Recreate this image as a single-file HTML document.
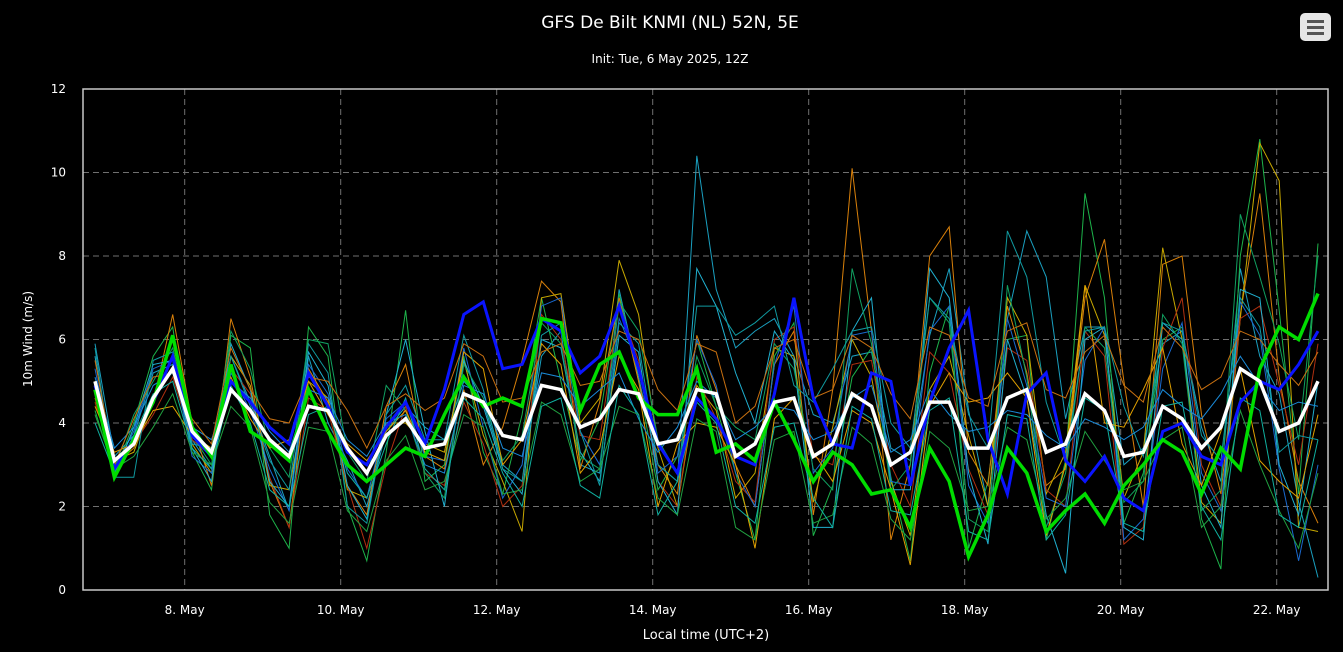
<!DOCTYPE html>
<html><head><meta charset="utf-8">
<style>
html,body{margin:0;padding:0;background:#000;}
svg{display:block;font-family:"DejaVu Sans","Liberation Sans",sans-serif;}
</style></head>
<body>
<svg id="chart" width="1343" height="652" viewBox="0 0 1343 652" xmlns="http://www.w3.org/2000/svg">
<rect x="0" y="0" width="1343" height="652" fill="#000"/>
<text x="670" y="28" fill="#fff" font-size="17" text-anchor="middle">GFS De Bilt KNMI (NL) 52N, 5E</text>
<text x="670" y="63" fill="#fff" font-size="12" text-anchor="middle">Init: Tue, 6 May 2025, 12Z</text>
<g>
<rect x="1300" y="13" width="31" height="28" rx="5" fill="#e6e6e6"/>
<rect x="1307" y="20" width="17" height="3" fill="#555"/>
<rect x="1307" y="26" width="17" height="3" fill="#555"/>
<rect x="1307" y="32" width="17" height="3" fill="#555"/>
</g>
<g id="grid"></g>
<g id="members"></g>
<g id="mains"></g>
<rect x="83" y="89" width="1245" height="501" fill="none" stroke="#c8c8c8" stroke-width="1.5"/>
<g id="axes"></g>
<text transform="translate(32,339) rotate(-90)" fill="#fff" font-size="12" text-anchor="middle">10m Wind (m/s)</text>
<text x="706" y="639" fill="#fff" font-size="13" text-anchor="middle">Local time (UTC+2)</text>
</svg>
<script>
const yTicks=[0,2,4,6,8,10,12];
const xTickLabels=["8. May","10. May","12. May","14. May","16. May","18. May","20. May","22. May"];
const xTickDays=[1.15,3.15,5.15,7.15,9.15,11.15,13.15,15.15];
const meanValues=[5.0,3.1,3.5,4.6,5.3,3.8,3.3,4.8,4.3,3.6,3.2,4.4,4.3,3.4,2.8,3.7,4.1,3.4,3.5,4.7,4.5,3.7,3.6,4.9,4.8,3.9,4.1,4.8,4.7,3.5,3.6,4.8,4.7,3.2,3.5,4.5,4.6,3.2,3.5,4.7,4.4,3.0,3.3,4.5,4.5,3.4,3.4,4.6,4.8,3.3,3.5,4.7,4.3,3.2,3.3,4.4,4.1,3.4,3.9,5.3,5.0,3.8,4.0,5.0];
const controlValues=[4.8,2.7,3.6,4.5,6.1,3.9,3.2,5.4,3.8,3.5,3.1,4.8,3.8,3.0,2.6,3.0,3.4,3.2,4.2,5.1,4.4,4.6,4.4,6.5,6.4,4.3,5.4,5.7,4.6,4.2,4.2,5.3,3.3,3.5,3.1,4.5,3.6,2.6,3.3,3.0,2.3,2.4,1.5,3.4,2.6,0.8,1.8,3.4,2.8,1.4,1.9,2.3,1.6,2.5,3.0,3.6,3.3,2.3,3.4,2.9,5.3,6.3,6.0,7.1];
const operValues=[4.9,2.9,3.6,4.5,5.6,3.7,3.2,5.0,4.5,3.9,3.5,5.2,4.4,3.3,3.0,3.9,4.5,3.5,4.8,6.6,6.9,5.3,5.4,6.5,6.2,5.2,5.6,6.8,5.3,3.5,2.8,4.6,4.1,3.2,3.0,4.7,7.0,4.6,3.5,3.4,5.2,5.0,2.5,4.5,5.8,6.7,3.6,2.3,4.7,5.2,3.1,2.6,3.2,2.2,1.9,3.8,4.0,3.2,3.0,4.5,5.0,4.8,5.4,6.2];
const member1=[5.9,3.2,3.7,5.2,5.4,3.6,2.9,5.6,4.5,3.2,1.9,5.6,4.0,3.1,2.0,3.8,4.4,3.9,3.6,5.0,4.5,3.0,2.6,5.6,6.2,3.0,2.8,7.2,5.1,3.0,2.6,10.4,7.2,5.8,6.2,6.5,5.6,4.2,4.0,5.6,5.7,3.4,3.1,6.1,7.7,4.3,2.0,6.5,8.6,7.5,4.1,6.3,6.3,3.0,3.4,5.9,6.2,3.9,2.6,7.7,5.6,4.7,2.1,0.3];
const member2=[4.3,2.8,4.0,5.6,6.3,3.3,2.4,6.1,5.8,1.8,1.0,6.3,5.6,2.0,0.7,3.3,6.7,2.6,3.0,5.6,3.3,2.3,4.2,7.0,5.0,3.1,4.1,7.1,5.0,2.4,3.2,6.0,4.4,2.8,1.2,5.6,6.4,1.3,2.5,5.1,5.8,2.7,0.7,5.2,6.8,1.0,2.6,6.0,6.1,1.2,3.1,9.5,7.0,1.6,2.8,6.0,6.3,1.7,0.5,8.0,10.8,6.7,2.3,8.3];
const member3=[4.6,3.0,3.4,4.5,6.6,4.0,2.5,6.5,5.1,2.6,1.5,5.3,4.5,2.5,1.8,4.4,5.4,3.2,2.9,4.8,3.0,3.9,5.5,7.4,6.9,2.9,4.5,7.0,5.0,3.0,2.3,6.1,4.8,3.0,2.0,5.4,6.2,1.8,4.8,10.1,6.2,1.2,3.0,8.0,8.7,3.3,2.5,6.8,5.2,2.5,2.9,7.0,8.4,5.0,2.0,7.8,8.0,4.2,2.3,6.6,9.5,5.1,2.6,1.6];
const member4=[5.0,3.1,3.3,4.6,6.0,3.5,2.8,5.6,4.9,2.5,2.4,5.0,4.6,2.4,2.2,4.0,4.0,3.5,3.3,5.5,3.7,2.6,1.4,7.0,7.1,4.0,4.6,7.9,6.6,3.4,2.0,4.9,4.3,2.2,2.8,5.8,5.6,2.1,3.9,6.0,5.1,2.6,1.3,4.8,5.6,3.7,2.0,7.0,6.1,2.3,3.3,7.3,6.1,2.2,3.3,8.2,6.0,2.1,1.6,6.5,10.7,9.8,1.5,1.4];
const member5=[4.5,3.0,3.5,4.2,5.1,3.6,3.2,5.3,4.7,2.7,1.5,4.6,4.3,2.5,1.0,3.0,4.4,2.8,2.5,4.5,3.5,2.0,2.5,6.6,6.0,3.7,3.6,6.8,5.5,2.6,2.0,5.1,4.1,2.6,2.1,6.0,6.3,3.2,3.0,5.4,5.5,3.0,2.0,5.7,5.2,2.9,1.8,5.8,5.5,2.4,2.0,6.2,5.6,1.1,1.5,5.8,7.0,3.0,2.0,6.5,6.8,4.9,3.0,5.9];
const member6=[5.3,2.9,3.8,5.3,5.5,3.2,2.8,5.2,4.3,2.9,1.9,5.4,4.7,2.9,2.2,4.1,4.5,3.2,3.1,5.8,3.9,2.2,3.0,6.8,7.0,3.8,3.0,6.5,5.4,2.8,3.2,6.0,4.9,2.8,2.0,5.4,6.8,2.8,3.4,6.1,6.2,2.6,2.5,6.2,6.8,2.5,1.6,6.5,4.9,2.2,2.0,5.5,6.3,1.2,1.7,5.3,6.4,2.8,1.9,6.9,6.1,2.9,0.7,3.0];
const member7=[5.6,2.7,3.9,5.4,5.5,3.4,2.6,5.9,4.8,2.6,2.0,5.7,4.9,2.5,1.7,4.2,6.0,3.8,2.0,5.5,4.4,2.9,2.3,6.0,5.8,3.3,2.6,6.1,5.7,2.6,1.8,7.7,6.8,5.2,4.0,6.2,5.5,1.5,1.5,6.2,7.0,2.4,2.4,7.7,7.0,2.8,1.1,6.0,4.6,1.8,0.4,6.0,6.3,1.5,1.2,6.4,6.0,2.5,1.5,7.2,7.0,3.0,1.8,5.0];
const member8=[4.7,2.9,4.2,5.0,5.8,3.7,3.0,6.2,5.3,3.4,2.7,6.0,5.9,3.3,2.6,4.9,4.3,2.8,2.2,5.4,4.6,3.1,3.7,6.4,5.9,3.2,2.9,6.9,6.2,3.6,2.8,5.6,4.4,3.9,3.6,5.9,5.3,2.9,2.4,7.7,5.9,2.4,3.0,7.0,6.4,1.7,1.4,7.3,5.1,1.5,2.8,6.3,5.8,2.1,2.6,6.6,5.9,1.9,2.4,9.0,7.5,5.9,3.6,8.0];
const member9=[4.4,3.3,3.5,4.3,4.4,3.7,3.4,5.1,4.1,3.4,3.6,5.0,4.2,3.5,3.1,3.8,4.3,3.3,3.1,5.7,5.3,3.0,3.6,5.9,5.4,2.8,3.4,5.6,4.8,2.0,3.5,4.0,3.9,3.0,1.0,4.1,4.6,3.3,2.6,4.3,4.0,2.4,0.6,4.4,5.2,4.5,4.6,5.2,4.6,1.3,3.0,7.3,4.0,3.9,4.8,5.8,3.5,2.5,3.8,5.3,3.1,2.6,2.2,4.2];
const member10=[5.8,2.7,2.7,5.5,5.7,3.5,3.4,5.6,4.4,3.1,2.4,5.9,5.2,2.0,1.6,4.2,4.9,3.6,3.6,6.1,4.8,2.9,2.6,6.1,6.4,3.8,2.5,6.4,5.9,3.0,2.6,6.8,6.8,6.1,6.4,6.8,4.9,4.5,5.3,6.2,6.3,4.0,3.4,7.0,6.5,4.2,3.4,8.6,7.5,4.5,3.1,6.2,6.3,4.4,3.2,6.4,6.2,3.7,3.1,7.0,6.3,3.3,3.7,3.6];
const member11=[5.1,3.4,3.9,4.9,5.2,3.9,3.6,5.0,4.6,3.8,3.3,4.8,4.6,3.6,3.2,4.0,4.2,3.0,2.8,4.9,4.7,3.4,3.2,5.2,5.1,4.4,4.8,5.2,4.1,3.3,3.9,5.0,4.6,3.6,3.9,4.4,4.3,3.6,3.8,4.6,4.9,3.3,3.6,4.8,4.2,3.8,3.9,4.3,4.2,3.7,3.4,4.1,3.9,3.6,3.9,4.8,4.4,4.1,4.7,5.6,4.9,4.3,4.5,4.4];
const member12=[4.2,2.9,3.2,3.9,4.7,3.3,3.0,4.4,3.9,2.1,1.6,3.9,3.8,1.9,1.4,3.1,3.7,2.4,2.6,4.2,3.9,2.3,2.4,4.5,4.2,2.6,2.9,4.4,4.2,2.2,1.8,4.1,3.8,1.5,1.2,3.6,3.8,1.6,1.8,3.9,3.5,1.7,1.2,3.8,3.4,1.9,2.0,3.9,3.6,1.7,2.2,3.8,3.1,2.4,2.6,3.6,3.9,1.5,2.0,4.3,3.0,1.9,1.0,2.8];
const member13=[5.5,3.0,4.1,5.1,5.2,4.1,3.5,5.8,4.8,4.1,4.0,5.1,5.0,4.3,3.4,4.4,4.7,4.3,4.6,5.9,5.6,4.5,4.6,5.7,5.9,4.9,5.0,6.2,6.0,4.8,4.3,5.9,5.7,4.0,4.4,5.8,6.0,4.6,4.8,6.1,5.8,4.7,4.1,6.3,6.1,4.6,4.4,6.2,6.4,4.8,4.6,5.7,6.1,4.9,4.5,6.3,5.8,4.8,5.1,6.2,6.0,5.4,4.9,5.7];
const member14=[4.0,2.8,3.7,4.7,5.0,3.4,2.9,4.9,4.0,2.4,2.0,4.2,4.4,2.8,2.2,3.5,4.6,2.9,2.4,4.6,4.1,2.8,2.0,4.4,4.6,2.5,2.2,4.9,4.2,1.8,2.6,4.5,4.0,2.0,1.6,3.9,4.0,2.2,1.5,4.4,4.1,1.9,1.8,4.3,4.6,1.4,1.2,4.2,4.1,1.2,1.8,4.6,4.3,1.6,1.4,4.4,4.5,2.0,1.2,4.6,4.3,1.8,1.5,3.6];

const NS="http://www.w3.org/2000/svg";
const X0=83,X1=1328,Y0=590,Y1=89,YMAX=12;
const firstX=95,lastX=1318,dayPx=78;
function yScale(v){return Y0-(v/YMAX)*(Y0-Y1);}
function xIndex(i,n){return firstX+i*(lastX-firstX)/(n-1);}
function xDay(d){return firstX+d*dayPx;}
const grid=document.getElementById('grid'),axes=document.getElementById('axes');
yTicks.forEach(t=>{
  const y=yScale(t);
  if(t>0&&t<YMAX){const l=document.createElementNS(NS,'line');
  l.setAttribute('x1',X0);l.setAttribute('x2',X1);l.setAttribute('y1',y);l.setAttribute('y2',y);
  l.setAttribute('stroke','#707070');l.setAttribute('stroke-dasharray','6,4');
  
  
  grid.appendChild(l);}
  const tx=document.createElementNS(NS,'text');
  tx.setAttribute('x',66);tx.setAttribute('y',y+4);tx.setAttribute('fill','#fff');tx.setAttribute('font-size','12');tx.setAttribute('text-anchor','end');
  tx.textContent=t;
  
  
  axes.appendChild(tx);
});
xTickLabels.forEach((lab,k)=>{
  const x=xDay(xTickDays[k]);
  const l=document.createElementNS(NS,'line');
  l.setAttribute('x1',x);l.setAttribute('x2',x);l.setAttribute('y1',Y1);l.setAttribute('y2',Y0);
  l.setAttribute('stroke','#707070');l.setAttribute('stroke-dasharray','6,4');
  
  
  grid.appendChild(l);
  const tx=document.createElementNS(NS,'text');
  tx.setAttribute('x',x);tx.setAttribute('y',614);tx.setAttribute('fill','#fff');tx.setAttribute('font-size','12');tx.setAttribute('text-anchor','middle');
  tx.textContent=lab;
  
  
  axes.appendChild(tx);
});
function line(parent,vals,color,w,name){
  const p=document.createElementNS(NS,'polyline');
  p.setAttribute('points',vals.map((v,i)=>xIndex(i,vals.length).toFixed(1)+','+yScale(v).toFixed(1)).join(' '));
  p.setAttribute('fill','none');p.setAttribute('stroke',color);p.setAttribute('stroke-width',w);p.setAttribute('stroke-linejoin','miter');
  
  
  parent.appendChild(p);
}
const mg=document.getElementById('members');
const members=[member1,member2,member3,member4,member5,member6,member7,member8,member9,member10,member11,member12,member13,member14];
const mColors=['#1aa0c0','#1db34a','#d9800a','#c8a800','#b03010','#1a6ad0','#20b0d0','#10a060','#e0a000','#109aa0','#1a8ad8','#20a040','#c87010','#10b0a0'];
members.forEach((m,k)=>line(mg,m,mColors[k],1,'ensemble-member-'+(k+1)));
const mains=document.getElementById('mains');
line(mains,operValues,'#0a14ff',3,'operational-run-line');
line(mains,controlValues,'#00dd00',3.5,'control-run-line');
line(mains,meanValues,'#ffffff',3.5,'ensemble-mean-line');
</script>
</body></html>
